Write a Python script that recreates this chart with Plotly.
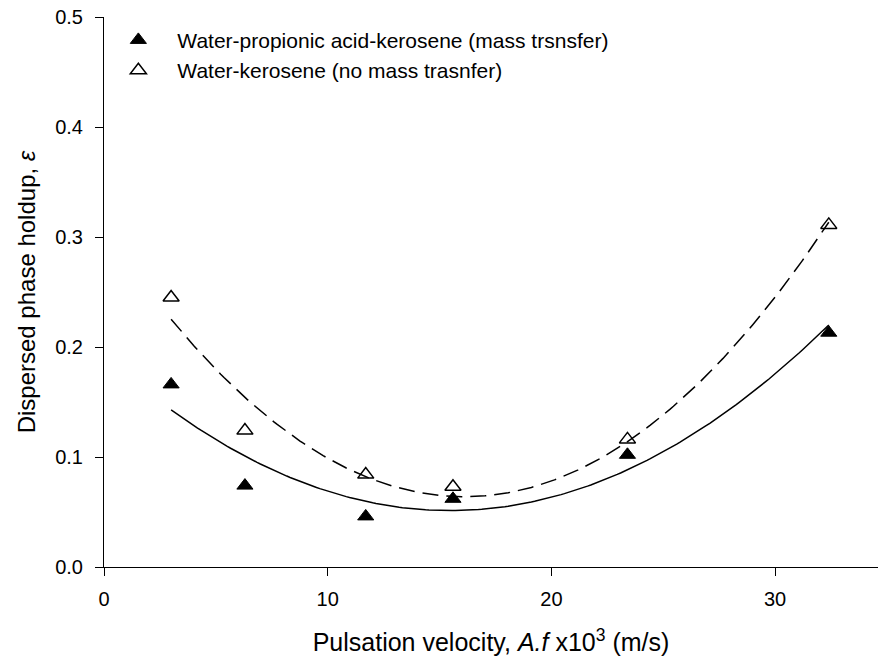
import numpy as np
import plotly.graph_objects as go

# Data
x_vals = [3.0, 6.3, 11.7, 15.6, 23.4, 32.4]
holdup_mass = [0.166, 0.074, 0.046, 0.062, 0.102, 0.213]
holdup_nomass = [0.245, 0.124, 0.084, 0.073, 0.116, 0.311]
name_mass = "Water-propionic acid-kerosene (mass trsnsfer)"
name_nomass = "Water-kerosene (no mass trasnfer)"
x_ticks = [0, 10, 20, 30]
y_ticks = [0.0, 0.1, 0.2, 0.3, 0.4, 0.5]

# Quadratic regression curves through the data
xf = np.linspace(min(x_vals), max(x_vals), 200)
fit_mass = np.polyval(np.polyfit(x_vals, holdup_mass, 2), xf)
fit_nomass = np.polyval(np.polyfit(x_vals, holdup_nomass, 2), xf)

FONT = "Liberation Sans, Arial, sans-serif"

fig = go.Figure()
fig.add_trace(go.Scatter(x=xf, y=fit_mass, mode="lines",
                         line=dict(color="black", width=1.5),
                         showlegend=False, hoverinfo="skip"))
fig.add_trace(go.Scatter(x=xf, y=fit_nomass, mode="lines",
                         line=dict(color="black", width=1.5, dash="16px,8px"),
                         showlegend=False, hoverinfo="skip"))
fig.add_trace(go.Scatter(x=x_vals, y=holdup_mass, mode="markers", name=name_mass,
                         marker=dict(symbol="triangle-up", size=14, color="black",
                                     line=dict(color="black", width=1))))
fig.add_trace(go.Scatter(x=x_vals, y=holdup_nomass, mode="markers", name=name_nomass,
                         marker=dict(symbol="triangle-up-open", size=14, color="black",
                                     line=dict(color="black", width=1.5))))

fig.update_layout(
    width=878, height=664,
    margin=dict(l=104, r=0, t=17, b=97),
    plot_bgcolor="white", paper_bgcolor="white",
    font=dict(family=FONT, size=20, color="black"),
    legend=dict(x=-0.006, y=0.995, xanchor="left", yanchor="top",
                bgcolor="rgba(0,0,0,0)", font=dict(size=21, family=FONT),
                tracegroupgap=0, itemwidth=68),
    xaxis=dict(range=[0, 34.6], tickvals=x_ticks, ticks="outside", ticklen=8,
               tickcolor="black", showline=True, linecolor="black", linewidth=1,
               showgrid=False, zeroline=False, mirror=False,
               ticklabelstandoff=6,
               tickfont=dict(size=20, family=FONT),
               title=dict(text="Pulsation velocity, <i>A.f</i> x10<sup>3</sup> (m/s)",
                          font=dict(size=25, family=FONT), standoff=24)),
    yaxis=dict(range=[0, 0.5], tickvals=y_ticks, tickformat=".1f", ticks="outside",
               ticklen=8, tickcolor="black", showline=True, linecolor="black",
               linewidth=1, showgrid=False, zeroline=False, mirror=False,
               ticklabelstandoff=8,
               tickfont=dict(size=20, family=FONT),
               title=dict(text="Dispersed phase holdup, <i>ε</i>",
                          font=dict(size=24, family=FONT), standoff=12)),
)

fig.write_html("out.html")
